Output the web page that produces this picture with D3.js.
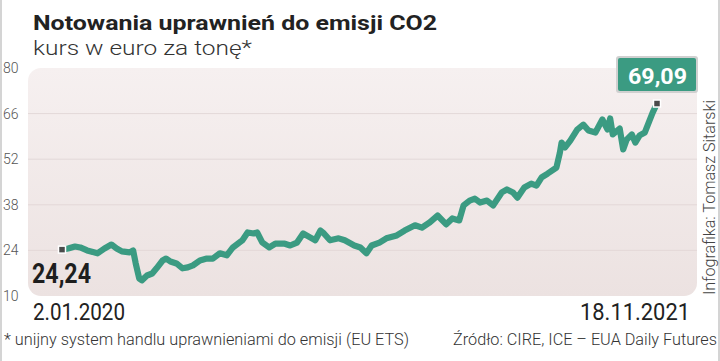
<!DOCTYPE html>
<html><head><meta charset="utf-8">
<script src="https://cdn.jsdelivr.net/npm/d3@7"></script>
<style>
html,body{margin:0;padding:0;background:#fff;}
svg{display:block;font-family:Roboto,"Noto Sans",sans-serif;}
</style></head>
<body>
<svg id="c" width="720" height="361"></svg>
<script>
const dates = ["2020-01-02","2020-01-09","2020-01-17","2020-01-23","2020-01-31","2020-02-12","2020-02-20","2020-02-28","2020-03-05","2020-03-11","2020-03-20","2020-03-24","2020-03-27","2020-03-31","2020-04-03","2020-04-09","2020-04-15","2020-04-20","2020-04-27","2020-05-01","2020-05-06","2020-05-13","2020-05-20","2020-05-26","2020-06-01","2020-06-09","2020-06-17","2020-06-24","2020-07-02","2020-07-10","2020-07-17","2020-07-28","2020-08-03","2020-08-10","2020-08-14","2020-08-20","2020-08-28","2020-09-04","2020-09-14","2020-09-21","2020-09-29","2020-10-06","2020-10-14","2020-10-20","2020-10-26","2020-10-30","2020-11-06","2020-11-16","2020-11-23","2020-12-04","2020-12-11","2020-12-18","2020-12-24","2021-01-02","2021-01-10","2021-01-22","2021-01-31","2021-02-12","2021-02-20","2021-03-01","2021-03-10","2021-03-20","2021-03-27","2021-04-04","2021-04-09","2021-04-16","2021-04-22","2021-04-28","2021-05-06","2021-05-13","2021-05-23","2021-05-29","2021-06-05","2021-06-10","2021-06-18","2021-06-26","2021-07-02","2021-07-08","2021-07-15","2021-07-25","2021-07-29","2021-07-31","2021-08-04","2021-08-10","2021-08-18","2021-08-25","2021-08-31","2021-09-08","2021-09-16","2021-09-22","2021-09-25","2021-09-28","2021-10-06","2021-10-10","2021-10-14","2021-10-20","2021-10-24","2021-10-29","2021-11-04","2021-11-09","2021-11-13","2021-11-18"];
const prices = [24.24,24.6,25.2,24.9,24.0,23.1,24.6,25.8,24.6,23.7,23.4,24.0,20.0,15.4,14.8,16.3,16.9,18.5,20.9,21.5,20.6,20.0,18.5,18.8,19.4,20.9,21.5,21.5,23.1,22.5,24.9,27.1,29.5,29.2,29.5,26.4,24.9,26.1,26.1,25.5,26.4,29.2,28.0,27.1,30.1,29.2,27.1,27.7,27.1,25.5,24.9,23.1,25.5,26.4,27.7,28.6,30.1,31.7,31.0,32.6,34.7,32.0,33.8,33.2,37.8,39.3,39.9,38.7,39.3,37.8,41.8,42.7,41.8,40.2,43.3,44.5,43.9,46.4,47.6,49.4,54.0,57.1,55.6,57.7,61.1,62.6,60.8,60.2,64.2,61.1,64.5,59.6,61.4,55.0,58.0,59.6,57.1,59.3,60.2,63.6,66.3,69.09];
const yTicks = [10,24,38,52,66,80];
const title = "Notowania uprawnień do emisji CO2";
const subtitle = "kurs w euro za tonę*";
const startLabel = "24,24";
const endLabel = "69,09";
const startDateLabel = "2.01.2020";
const endDateLabel = "18.11.2021";
const footnote = "* unijny system handlu uprawnieniami do emisji (EU ETS)";
const source = "Źródło: CIRE, ICE – EUA Daily Futures";
const credit = "Infografika: Tomasz Sitarski";

const parse = d3.timeParse("%Y-%m-%d");
const data = dates.map((d,i)=>({date:parse(d), value:prices[i]}));

const svg = d3.select("#c");
const x = d3.scaleTime().domain(d3.extent(data,d=>d.date)).range([62,657]);
const y = d3.scaleLinear().domain([10,80]).range([296,68]);

function fit(sel, w){ sel.attr("textLength", w).attr("lengthAdjust","spacingAndGlyphs"); return sel; }

// borders
svg.append("rect").attr("x",0).attr("y",0).attr("width",2).attr("height",361).attr("fill","#d4d4d4");
svg.append("rect").attr("x",718).attr("y",0).attr("width",2).attr("height",361).attr("fill","#d4d4d4");

// background
const defs = svg.append("defs");
const g = defs.append("linearGradient").attr("id","bg").attr("x1",0).attr("y1",0).attr("x2",0).attr("y2",1);
g.append("stop").attr("offset","0%").attr("stop-color","#f6f0f0");
g.append("stop").attr("offset","100%").attr("stop-color","#ece2e1");
svg.append("rect").attr("x",28).attr("y",y(80)).attr("width",669).attr("height",y(10)-y(80))
  .attr("rx",13).attr("fill","url(#bg)");

// grid
svg.append("g").selectAll("line").data(yTicks.filter(t=>t!==10&&t!==80)).join("line")
  .attr("x1",28).attr("x2",697).attr("y1",d=>y(d)).attr("y2",d=>y(d))
  .attr("stroke","#e3d8d8").attr("stroke-width",1);

// y axis labels
const yAxis = d3.axisLeft(y).tickValues(yTicks).tickSize(0).tickPadding(0);
const ya = svg.append("g").attr("transform","translate(3,0)").call(yAxis);
ya.select(".domain").remove();
ya.selectAll("text").attr("text-anchor","start").attr("x",0).attr("font-size",14)
  .attr("font-weight",300).attr("fill","#555").attr("font-family","Roboto");

// line
svg.append("path").datum(data)
  .attr("d", d3.line().x(d=>x(d.date)).y(d=>y(d.value)).curve(d3.curveLinear))
  .attr("fill","none").attr("stroke","#3b9b82").attr("stroke-width",6.2)
  .attr("stroke-linejoin","round").attr("stroke-linecap","round");

// markers
const ends = [data[0], data[data.length-1]];
svg.append("g").selectAll("rect").data(ends).join("rect")
  .attr("x",d=>x(d.date)-3.5).attr("y",d=>y(d.value)-3.5).attr("width",7).attr("height",7)
  .attr("fill","#4a4a4a").attr("stroke","#fff").attr("stroke-width",1.5);

// titles
fit(svg.append("text").attr("x",33).attr("y",30).attr("font-size",21).attr("font-weight",700)
  .attr("fill","#222").text(title), 404);
fit(svg.append("text").attr("x",33).attr("y",55).attr("font-size",21).attr("font-weight",300)
  .attr("fill","#333").text(subtitle), 219);

// start label
fit(svg.append("text").attr("x",32).attr("y",283).attr("font-size",28).attr("font-weight",700)
  .attr("fill","#1e1e1e").text(startLabel), 59);

// end label box
svg.append("rect").attr("x",616).attr("y",56).attr("width",82).attr("height",37).attr("rx",3)
  .attr("fill","#d0d0d0");
svg.append("rect").attr("x",618).attr("y",58).attr("width",78).attr("height",33).attr("rx",2)
  .attr("fill","#3b9b82");
fit(svg.append("text").attr("x",628).attr("y",83.5).attr("font-size",22).attr("font-weight",700)
  .attr("fill","#fff").text(endLabel), 59);

// date labels
fit(svg.append("text").attr("x",33).attr("y",320).attr("font-size",24).attr("font-weight",400)
  .attr("fill","#222").text(startDateLabel), 92);
fit(svg.append("text").attr("x",580).attr("y",320).attr("font-size",24).attr("font-weight",400)
  .attr("fill","#222").text(endDateLabel), 110);

// footnotes
fit(svg.append("text").attr("x",4).attr("y",345).attr("font-size",16).attr("font-weight",300)
  .attr("fill","#333").text(footnote), 405);
fit(svg.append("text").attr("x",453).attr("y",345).attr("font-size",16).attr("font-weight",300)
  .attr("fill","#333").text(source), 264);

// credit
fit(svg.append("text").attr("transform","translate(715,295) rotate(-90)").attr("font-size",16)
  .attr("font-weight",300).attr("fill","#444").text(credit), 195);
</script>
</body></html>
